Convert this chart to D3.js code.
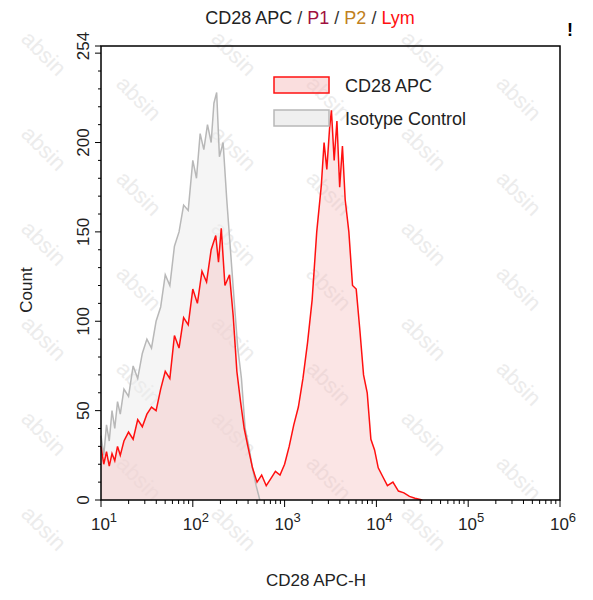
<!DOCTYPE html><html><head><meta charset="utf-8">
<script src="https://cdn.jsdelivr.net/npm/d3@7"></script>
<style>body{margin:0;background:#fff}text{font-family:Arial,"Liberation Sans",sans-serif}</style></head><body>
<svg id="c" width="593" height="600"></svg>
<script>
const redLog=[1.0,1.03,1.06,1.09,1.12,1.15,1.18,1.21,1.25,1.3,1.35,1.4,1.45,1.5,1.55,1.6,1.65,1.7,1.75,1.8,1.85,1.9,1.95,2.0,2.05,2.1,2.15,2.2,2.25,2.28,2.31,2.35,2.4,2.44,2.48,2.52,2.56,2.6,2.65,2.7,2.75,2.8,2.85,2.9,2.95,3.0,3.05,3.1,3.15,3.2,3.25,3.3,3.35,3.4,3.43,3.46,3.49,3.51,3.54,3.57,3.6,3.63,3.66,3.7,3.74,3.78,3.82,3.86,3.9,3.94,3.98,4.02,4.07,4.12,4.18,4.24,4.3,4.36,4.42,4.5];
const redCnt=[30,20,27,19,26,22,30,25,33,38,34,45,41,48,52,50,62,72,68,92,85,102,98,118,110,128,122,140,148,133,152,120,126,103,72,55,40,30,18,10,14,8,12,16,14,20,30,42,52,68,88,112,150,176,200,185,208,218,190,212,175,198,168,150,120,118,95,70,60,34,28,18,13,8,10,5,4,2,1,0];
const grayLog=[1.0,1.03,1.06,1.09,1.12,1.15,1.18,1.21,1.25,1.3,1.35,1.4,1.45,1.5,1.55,1.6,1.65,1.7,1.75,1.8,1.85,1.9,1.95,2.0,2.04,2.08,2.12,2.16,2.2,2.23,2.26,2.29,2.33,2.37,2.41,2.45,2.49,2.53,2.57,2.61,2.65,2.69,2.73];
const grayCnt=[36,25,42,33,50,40,55,48,62,58,75,68,82,90,85,100,108,126,120,142,150,165,162,190,180,205,196,210,200,222,228,192,200,168,140,112,85,68,40,30,18,8,0];
const yTicks=[0,50,100,150,200,254];
const xDecades=[1,2,3,4,5,6];
const legendLabels=["CD28 APC","Isotype Control"];

const svg=d3.select("#c");
const L=101,R=560,T=46,B=500;
const x=d3.scaleLinear().domain([1,6]).range([L,R]);
const y=d3.scaleLinear().domain([0,254]).range([B,T]);

// watermark (kept inside the picture)
const wm=svg.append("g");
for(let i=0;i<6;i++)for(let j=0;j<6;j++){
  const cx=20+i*95, cy=40+j*95+(i%2)*45;
  if(cx>540||cy>540) continue;
  wm.append("text").attr("transform",`translate(${cx},${cy}) rotate(45)`).attr("fill","#ececec").attr("font-size",22).text("absin");
}

const area=d3.area().x(d=>x(d[0])).y0(B).y1(d=>y(d[1]));
const line=d3.line().x(d=>x(d[0])).y(d=>y(d[1]));
const g=d3.zip(grayLog,grayCnt), r=d3.zip(redLog,redCnt);
svg.append("path").attr("d",area(g)).attr("fill","rgba(235,235,235,0.5)");
svg.append("path").attr("d",area(r)).attr("fill","rgba(245,190,190,0.4)");
svg.append("path").attr("d",line(g)).attr("fill","none").attr("stroke","#b8b8b8").attr("stroke-width",1.5);
svg.append("path").attr("d",line(r)).attr("fill","none").attr("stroke","#ff1010").attr("stroke-width",1.5);

svg.append("rect").attr("x",L).attr("y",T).attr("width",R-L).attr("height",B-T).attr("fill","none").attr("stroke","#000").attr("stroke-width",1.5);

const fs=17;
const ya=svg.append("g");
for(let v=0;v<=250;v+=10){const big=v%50===0;ya.append("line").attr("x1",L-(big?6:3)).attr("x2",L).attr("y1",y(v)).attr("y2",y(v)).attr("stroke","#000");}
ya.append("line").attr("x1",L-6).attr("x2",L).attr("y1",y(254)).attr("y2",y(254)).attr("stroke","#000");
yTicks.forEach(v=>ya.append("text").attr("transform",`translate(${L-12},${y(v)}) rotate(-90)`).attr("text-anchor","middle").attr("font-size",fs).attr("fill","#222").text(v));
svg.append("text").attr("transform","translate(32,290) rotate(-90)").attr("text-anchor","middle").attr("font-size",fs).attr("fill","#222").text("Count");

const xa=svg.append("g");
xDecades.forEach(d=>{
  xa.append("line").attr("x1",x(d)).attr("x2",x(d)).attr("y1",B).attr("y2",B+7).attr("stroke","#000");
  if(d<6)for(let k=2;k<10;k++){const p=x(d+Math.log10(k));xa.append("line").attr("x1",p).attr("x2",p).attr("y1",B).attr("y2",B+4).attr("stroke","#000");}
  const t=xa.append("text").attr("x",x(d)+3).attr("y",B+30).attr("text-anchor","middle").attr("font-size",fs).attr("fill","#222");
  t.append("tspan").text("10");t.append("tspan").attr("dy",-8).attr("font-size",13).text(d);
});
svg.append("text").attr("x",316).attr("y",586).attr("text-anchor","middle").attr("font-size",fs).attr("fill","#222").text("CD28 APC-H");

const lg=[{f:"rgba(245,190,190,0.5)",s:"#ff1010"},{f:"rgba(235,235,235,0.8)",s:"#b8b8b8"}];
legendLabels.forEach((t,i)=>{
  const yy=77+i*33;
  svg.append("rect").attr("x",274).attr("y",yy).attr("width",55).attr("height",16).attr("fill",lg[i].f).attr("stroke",lg[i].s).attr("stroke-width",1.5);
  svg.append("text").attr("x",345).attr("y",yy+15).attr("font-size",fs+1).attr("fill","#222").text(t);
});

const tt=svg.append("text").attr("x",310).attr("y",24).attr("text-anchor","middle").attr("font-size",fs+1);
[["CD28 APC","#222"],[" / ","#333"],["P1","#a01040"],[" / ","#333"],["P2","#c08020"],[" / ","#333"],["Lym","#ff1010"]].forEach(p=>tt.append("tspan").attr("fill",p[1]).text(p[0]));
svg.append("text").attr("x",567).attr("y",36).attr("font-size",18).attr("font-weight","bold").text("!");
</script></body></html>
